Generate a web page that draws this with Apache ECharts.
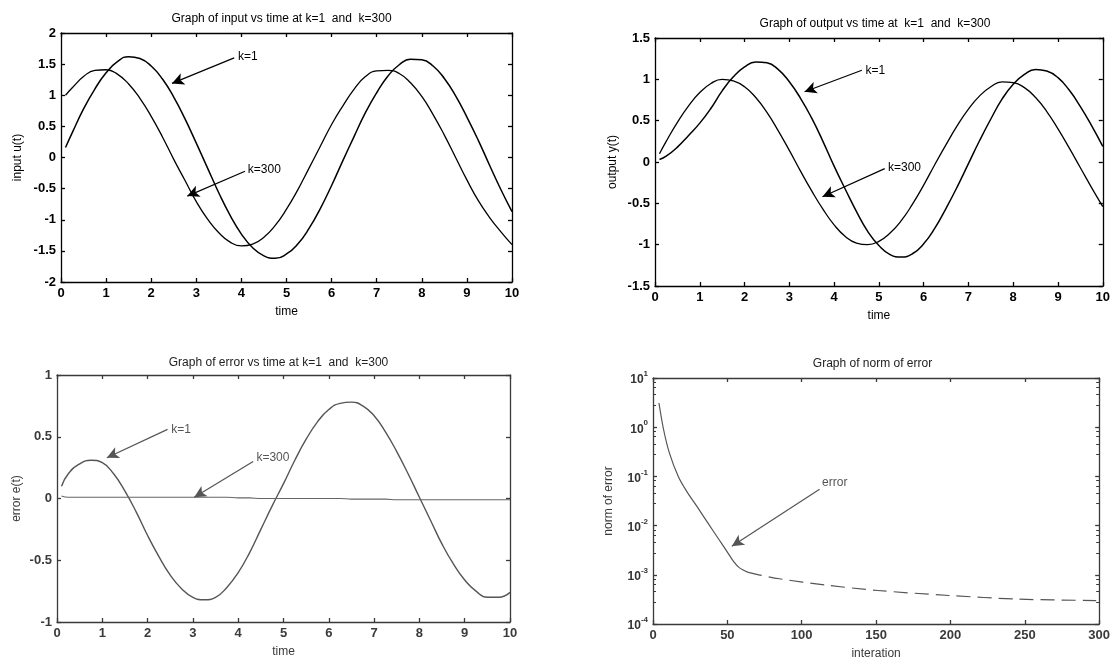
<!DOCTYPE html>
<html>
<head>
<meta charset="utf-8">
<script src="https://cdn.jsdelivr.net/npm/echarts@6/dist/echarts.min.js"></script>
<style>
  html, body { margin: 0; padding: 0; background: #fff; }
  #main { width: 1113px; height: 661px; }
</style>
</head>
<body>
<div id="main"></div>
<script>
// sample times (s) shared by the three time plots
const timeSamples = [0.1, 0.25, 0.5, 0.75, 1, 1.25, 1.5, 1.75, 2, 2.25, 2.5, 2.75, 3, 3.25, 3.5, 3.75, 4, 4.25, 4.5, 4.75,
  5, 5.25, 5.5, 5.75, 6, 6.25, 6.5, 6.75, 7, 7.25, 7.5, 7.75, 8, 8.25, 8.5, 8.75, 9, 9.25, 9.5, 9.75, 10];

// input u(t)
const inputK1 = [0.16, 0.40, 0.78, 1.10, 1.36, 1.54, 1.62, 1.59, 1.47, 1.26, 0.97, 0.62, 0.23, -0.17, -0.57, -0.93, -1.23, -1.45, -1.58, -1.62,
  -1.55, -1.39, -1.14, -0.82, -0.45, -0.05, 0.34, 0.72, 1.04, 1.31, 1.49, 1.58, 1.57, 1.47, 1.27, 0.99, 0.65, 0.28, -0.12, -0.51, -0.87];
const inputK300 = [1.00, 1.12, 1.30, 1.40, 1.41, 1.34, 1.18, 0.95, 0.66, 0.33, -0.03, -0.37, -0.71, -0.99, -1.21, -1.36, -1.42, -1.39, -1.28, -1.09,
  -0.83, -0.52, -0.17, 0.18, 0.53, 0.83, 1.10, 1.30, 1.39, 1.40, 1.35, 1.20, 0.98, 0.69, 0.36, 0.00, -0.36, -0.69, -0.96, -1.19, -1.40];

// output y(t)
const outputK1 = [0.03, 0.07, 0.18, 0.32, 0.47, 0.65, 0.86, 1.03, 1.15, 1.21, 1.20, 1.12, 0.97, 0.77, 0.53, 0.25, -0.05, -0.33, -0.60, -0.84,
  -1.01, -1.12, -1.15, -1.11, -0.99, -0.80, -0.56, -0.30, -0.02, 0.26, 0.52, 0.76, 0.94, 1.06, 1.12, 1.10, 1.02, 0.87, 0.67, 0.44, 0.19];
const outputK300 = [0.10, 0.25, 0.48, 0.68, 0.84, 0.95, 1.00, 0.98, 0.91, 0.78, 0.60, 0.38, 0.14, -0.11, -0.35, -0.57, -0.76, -0.90, -0.98, -1.00,
  -0.96, -0.86, -0.71, -0.51, -0.28, -0.03, 0.21, 0.44, 0.64, 0.80, 0.91, 0.97, 0.96, 0.90, 0.78, 0.61, 0.40, 0.17, -0.07, -0.31, -0.54];

// error e(t)
const errorK1 = [0.10, 0.20, 0.28, 0.31, 0.29, 0.20, 0.06, -0.11, -0.30, -0.47, -0.62, -0.73, -0.80, -0.82, -0.80, -0.72, -0.60, -0.44, -0.25, -0.06,
  0.12, 0.31, 0.48, 0.62, 0.72, 0.77, 0.78, 0.75, 0.67, 0.54, 0.38, 0.20, 0.01, -0.18, -0.37, -0.53, -0.66, -0.75, -0.80, -0.80, -0.76];
const errorK300 = [0.02, 0.01, 0.01, 0.01, 0.01, 0.01, 0.01, 0.01, 0.01, 0.01, 0.01, 0.01, 0.01, 0.01, 0.01, 0.01, 0.005, 0.005, 0.0, 0.0,
  0.0, 0.0, 0.0, 0.0, 0.0, 0.0, -0.005, -0.005, -0.005, -0.005, -0.01, -0.01, -0.01, -0.01, -0.01, -0.01, -0.01, -0.01, -0.01, -0.01, -0.01];

// norm of error per iteration
const iterations = [4, 7, 11, 17, 23, 30, 37, 44, 50, 54, 58, 64, 71, 85, 116, 151, 199, 246, 298];
const errorNorm = [3.1, 0.93, 0.3, 0.1, 0.048, 0.0234, 0.0112, 0.0054, 0.0029, 0.0019, 0.0014, 0.00112, 0.001, 0.00083, 0.00062, 0.00048, 0.00038, 0.00032, 0.0003];
const dashFrom = 11; // the scan shows the tail as a broken line

const titles = ['Graph of input vs time at k=1  and  k=300', 'Graph of output vs time at  k=1  and  k=300',
  'Graph of error vs time at k=1  and  k=300', 'Graph of norm of error'];

// arrow annotations: [label, label point, arrow start, arrow tip] in data coords
const notesInput = [['k=1', [3.9, 1.62], [3.84, 1.6], [2.46, 1.19]], ['k=300', [4.12, -0.2], [4.08, -0.22], [2.8, -0.62]]];
const notesOutput = [['k=1', [4.68, 1.11], [4.62, 1.11], [3.34, 0.85]], ['k=300', [5.18, -0.07], [5.13, -0.08], [3.74, -0.42]]];
const notesError = [['k=1', [2.5, 0.56], [2.44, 0.56], [1.1, 0.33]], ['k=300', [4.38, 0.33], [4.33, 0.30], [3.03, 0.01]]];
const notesNorm = [['error', [113, 0.075], [112, 0.055], [53, 0.0038]]];

const font = '"Liberation Sans Narrow", "Liberation Sans", Arial, sans-serif';
const pair = (xs, ys) => xs.map((x, i) => [x, ys[i]]);

const grids = [
  { left: 61, top: 33, width: 451, height: 249 },
  { left: 655, top: 38, width: 450, height: 248 },
  { left: 57, top: 375, width: 453, height: 247 },
  { left: 653, top: 378, width: 449, height: 247 }
];
const inkTop = '#000';
const inkBottom = '#3a3a3a';

function xAxes(g, min, max, interval, name, ink) {
  const common = {
    gridIndex: g, type: 'value', min: min, max: max, interval: interval,
    axisLine: { show: true, onZero: false, lineStyle: { color: ink, width: 1.3 } },
    axisTick: { show: true, inside: true, length: 4, lineStyle: { color: ink, width: 1.3 } },
    splitLine: { show: false }
  };
  return [
    Object.assign({}, common, {
      position: 'bottom', name: name, nameLocation: 'middle', nameGap: 24,
      nameTextStyle: { fontFamily: font, fontSize: 12, color: ink },
      axisLabel: { margin: 5, fontFamily: font, fontSize: 13, fontWeight: 'bold', color: ink }
    }),
    Object.assign({}, common, { position: 'top', axisLabel: { show: false } })
  ];
}

function yAxes(g, opts, name, gap, ink) {
  const common = Object.assign({
    gridIndex: g,
    axisLine: { show: true, onZero: false, lineStyle: { color: ink, width: 1.3 } },
    axisTick: { show: true, inside: true, length: 4, lineStyle: { color: ink, width: 1.3 } },
    splitLine: { show: false }
  }, opts);
  return [
    Object.assign({}, common, {
      position: 'left', name: name, nameLocation: 'middle', nameGap: gap,
      nameTextStyle: { fontFamily: font, fontSize: 12, color: ink },
      axisLabel: Object.assign({ margin: 5, fontFamily: font, fontSize: 13, fontWeight: 'bold', color: ink }, opts.label || {})
    }),
    Object.assign({}, common, { position: 'right', axisLabel: { show: false } })
  ];
}

function lineSeries(g, data, color, width, extra) {
  return Object.assign({
    type: 'line', xAxisIndex: 2 * g, yAxisIndex: 2 * g, data: data,
    smooth: true, showSymbol: false, animation: false,
    lineStyle: { color: color, width: width }
  }, extra || {});
}

function notes(g, list, ink) {
  return {
    type: 'line', xAxisIndex: 2 * g, yAxisIndex: 2 * g, data: [], animation: false,
    markLine: {
      silent: true, symbol: ['none', 'arrow'], symbolSize: [9, 12], animation: false,
      lineStyle: { color: ink, width: 1.2, type: 'solid' }, label: { show: false },
      data: list.map(n => [{ coord: n[2] }, { coord: n[3] }])
    },
    markPoint: {
      silent: true, symbol: 'circle', symbolSize: 0, animation: false,
      label: { show: true, position: 'right', distance: 1, fontFamily: font, fontSize: 12, color: ink },
      data: list.map(n => ({ coord: n[1], value: n[0], label: { formatter: n[0] } }))
    }
  };
}

const logLabel = {
  formatter: v => '{b|10}{s|' + Math.round(Math.log10(v)) + '}',
  rich: {
    b: { fontFamily: font, fontSize: 12, color: '#333', lineHeight: 16, verticalAlign: 'bottom' },
    s: { fontFamily: font, fontSize: 8, color: '#333', lineHeight: 8, verticalAlign: 'top' }
  }
};

const titleCenters = grids.map(g => g.left + g.width / 2);
const titleTops = [13, 18, 357, 358];

const chart = echarts.init(document.getElementById('main'));
chart.setOption({
  backgroundColor: '#fff',
  animation: false,
  title: titles.map((t, i) => ({
    text: t, left: titleCenters[i] - 5, top: titleTops[i], textAlign: 'center', padding: 0,
    textStyle: { fontFamily: font, fontSize: 12, fontWeight: 'normal', color: i < 2 ? inkTop : '#222' }
  })),
  grid: grids,
  xAxis: [].concat(
    xAxes(0, 0, 10, 1, 'time', inkTop),
    xAxes(1, 0, 10, 1, 'time', inkTop),
    xAxes(2, 0, 10, 1, 'time', inkBottom),
    xAxes(3, 0, 300, 50, 'interation', inkBottom)
  ),
  yAxis: [].concat(
    yAxes(0, { type: 'value', min: -2, max: 2, interval: 0.5 }, 'input u(t)', 37, inkTop),
    yAxes(1, { type: 'value', min: -1.5, max: 1.5, interval: 0.5 }, 'output y(t)', 36, inkTop),
    yAxes(2, { type: 'value', min: -1, max: 1, interval: 0.5 }, 'error e(t)', 34, inkBottom),
    yAxes(3, {
      type: 'log', logBase: 10, min: 0.0001, max: 10,
      minorTick: { show: true, length: 3, lineStyle: { color: inkBottom } },
      label: logLabel
    }, 'norm of error', 38, inkBottom)
  ),
  series: [
    lineSeries(0, pair(timeSamples, inputK1), '#000', 1.5),
    lineSeries(0, pair(timeSamples, inputK300), '#000', 1.3),
    lineSeries(1, pair(timeSamples, outputK1), '#000', 1.5),
    lineSeries(1, pair(timeSamples, outputK300), '#000', 1.3),
    lineSeries(2, pair(timeSamples, errorK1), '#555', 1.4),
    lineSeries(2, pair(timeSamples, errorK300), '#666', 1.1),
    lineSeries(3, pair(iterations.slice(0, dashFrom + 1), errorNorm.slice(0, dashFrom + 1)), '#555', 1.2, { smooth: 0.3 }),
    lineSeries(3, pair(iterations.slice(dashFrom), errorNorm.slice(dashFrom)), '#555', 1.2,
      { smooth: 0.3, lineStyle: { color: '#555', width: 1.2, type: [14, 7] } }),
    notes(0, notesInput, '#000'),
    notes(1, notesOutput, '#000'),
    notes(2, notesError, '#555'),
    notes(3, notesNorm, '#555')
  ]
});
</script>
</body>
</html>
